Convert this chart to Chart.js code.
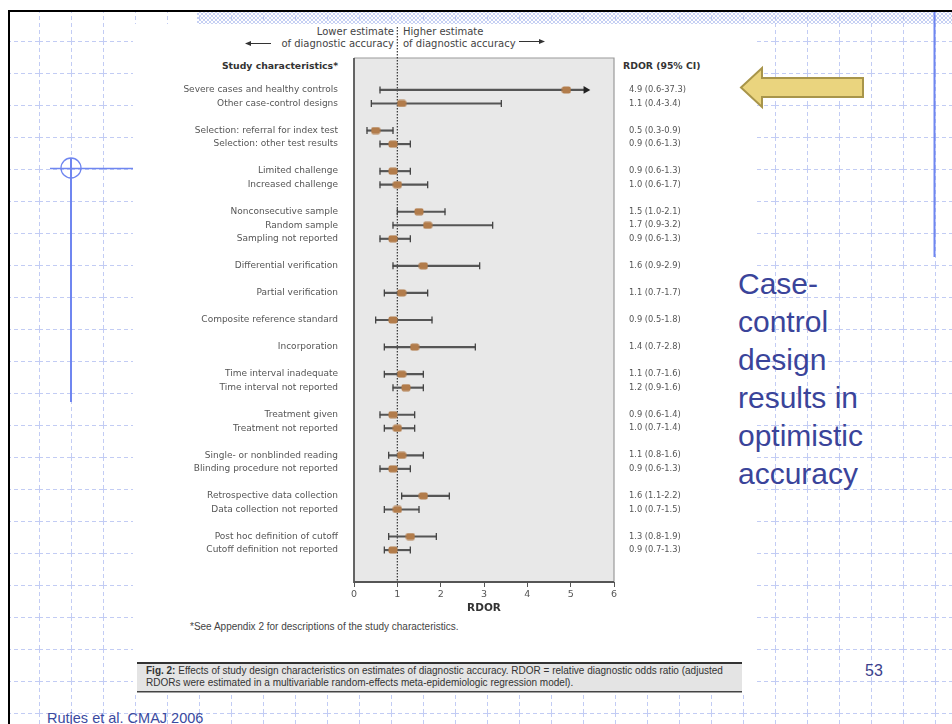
<!DOCTYPE html>
<html>
<head>
<meta charset="utf-8">
<script src="https://cdn.jsdelivr.net/npm/chart.js@4/dist/chart.umd.min.js"></script>
<style>
  html, body { margin: 0; padding: 0; background: #fff; }
  #slide { position: relative; width: 952px; height: 724px; overflow: hidden; background: #fff; }
  #slide svg, #slide canvas { position: absolute; left: 0; top: 0; }
  .t { position: absolute; white-space: nowrap; font-family: "DejaVu Sans", sans-serif; color: #444; }
  .r { text-align: right; }
  .b { font-weight: bold; color: #333; }
  .cap { font-family: "Liberation Sans", Arial, sans-serif; font-size: 10px; color: #333; }
</style>
</head>
<body>
<div id="slide">
  <svg width="952" height="724">
    <defs>
      <pattern id="grid" x="7" y="9" width="32" height="32" patternUnits="userSpaceOnUse">
        <path d="M0 0.5 H32" stroke="#c2ccf4" stroke-width="1" stroke-dasharray="4 3" fill="none"/>
        <path d="M0.5 0 V32" stroke="#c2ccf4" stroke-width="1" stroke-dasharray="4 3" fill="none"/>
      </pattern>
      <pattern id="hatch" width="4" height="4" patternUnits="userSpaceOnUse">
        <path d="M0 0 L4 4 M4 0 L0 4" stroke="#b7c4f0" stroke-width="0.8" fill="none"/>
      </pattern>
    </defs>
    <rect x="8" y="10" width="944" height="714" fill="url(#grid)"/>
    <rect x="197" y="12" width="755" height="12" fill="url(#hatch)"/>
    <rect x="133" y="24" width="622" height="671" fill="#fff"/>
    <rect x="8" y="10" width="944" height="2" fill="#000"/>
    <rect x="8" y="10" width="2" height="714" fill="#000"/>
    <!-- blue decorations -->
    <line x1="934.5" y1="12" x2="934.5" y2="257" stroke="#6f86f0" stroke-width="2"/>
    <circle cx="71" cy="168" r="10" fill="none" stroke="#6f86f0" stroke-width="1.3"/>
    <line x1="50" y1="168.5" x2="133" y2="168.5" stroke="#6f86f0" stroke-width="1.3"/>
    <line x1="71" y1="158" x2="71" y2="402" stroke="#6f86f0" stroke-width="2"/>
    <!-- yellow arrow -->
    <polygon points="741,87.5 762,68 762,78 863,78 863,97 762,97 762,107" fill="#ead47e" stroke="#a8954a" stroke-width="2" stroke-linejoin="miter"/>
    <!-- header arrows -->
    <line x1="249" y1="43.5" x2="271" y2="43.5" stroke="#333" stroke-width="1"/>
    <polygon points="245,43.5 251,41 251,46" fill="#333"/>
    <line x1="519" y1="41.5" x2="541" y2="41.5" stroke="#333" stroke-width="1"/>
    <polygon points="545,41.5 539,39 539,44" fill="#333"/>
    <!-- caption box -->
    <rect x="137" y="663" width="605" height="29" fill="#e4e4e4"/>
    <rect x="137" y="662" width="605" height="2" fill="#333"/>
    <rect x="137" y="691" width="605" height="1.5" fill="#444"/>
  </svg>

  <div class="t r" style="right:558px;top:26px;font-size:10px;">Lower estimate</div>
  <div class="t r" style="right:558px;top:38px;font-size:10px;">of diagnostic accuracy</div>
  <div class="t" style="left:403px;top:26px;font-size:10px;">Higher estimate</div>
  <div class="t" style="left:403px;top:38px;font-size:10px;">of diagnostic accuracy</div>
  <div class="t r b" style="right:614px;top:60px;font-size:9.3px;">Study characteristics*</div>
  <div class="t b" style="left:623px;top:60px;font-size:9.3px;">RDOR (95% CI)</div>
  <div class="t cap" style="left:190px;top:621px;color:#444;">*See Appendix 2 for descriptions of the study characteristics.</div>
  <div class="t cap" style="left:146px;top:665px;"><b>Fig. 2:</b> Effects of study design characteristics on estimates of diagnostic accuracy. RDOR = relative diagnostic odds ratio (adjusted</div>
  <div class="t cap" style="left:146px;top:677px;">RDORs were estimated in a multivariable random-effects meta-epidemiologic regression model).</div>

  <div class="t" style="left:738px;top:265px;font-family:'Liberation Sans',Arial,sans-serif;font-size:30px;line-height:38px;color:#3a449a;">Case-<br>control<br>design<br>results in<br>optimistic<br>accuracy</div>
  <div class="t" style="left:865px;top:662px;font-family:'Liberation Sans',Arial,sans-serif;font-size:16px;color:#3b3f8c;">53</div>
  <div class="t" style="left:47px;top:710px;font-family:'Liberation Sans',Arial,sans-serif;font-size:14.5px;color:#3a4aa0;">Rutjes et al. CMAJ 2006</div>

  <canvas id="forest" width="952" height="724"></canvas>
</div>

<script>
// study characteristics, grouped as in the figure
const groups = [
  ['Severe cases and healthy controls', 'Other case-control designs'],
  ['Selection: referral for index test', 'Selection: other test results'],
  ['Limited challenge', 'Increased challenge'],
  ['Nonconsecutive sample', 'Random sample', 'Sampling not reported'],
  ['Differential verification'],
  ['Partial verification'],
  ['Composite reference standard'],
  ['Incorporation'],
  ['Time interval inadequate', 'Time interval not reported'],
  ['Treatment given', 'Treatment not reported'],
  ['Single- or nonblinded reading', 'Blinding procedure not reported'],
  ['Retrospective data collection', 'Data collection not reported'],
  ['Post hoc definition of cutoff', 'Cutoff definition not reported']
];
const rdor   = [4.9, 1.1, 0.5, 0.9, 0.9, 1.0, 1.5, 1.7, 0.9, 1.6, 1.1, 0.9, 1.4, 1.1, 1.2, 0.9, 1.0, 1.1, 0.9, 1.6, 1.0, 1.3, 0.9];
const ciLow  = [0.6, 0.4, 0.3, 0.6, 0.6, 0.6, 1.0, 0.9, 0.6, 0.9, 0.7, 0.5, 0.7, 0.7, 0.9, 0.6, 0.7, 0.8, 0.6, 1.1, 0.7, 0.8, 0.7];
const ciHigh = [37.3, 3.4, 0.9, 1.3, 1.3, 1.7, 2.1, 3.2, 1.3, 2.9, 1.7, 1.8, 2.8, 1.6, 1.6, 1.4, 1.4, 1.6, 1.3, 2.2, 1.5, 1.9, 1.3];
const xTicks = [0, 1, 2, 3, 4, 5, 6];

const X_MAX = 6;
const ARROW_AT = 5.35;

// one row per characteristic, one blank row between groups
const rows = [];
const categories = [];
groups.forEach(g => {
  g.forEach(name => { rows.push({ name, slot: categories.length }); categories.push(name); });
  categories.push('');
});
categories.pop();
const ciText = {};
rows.forEach((r, i) => {
  ciText[r.slot] = rdor[i].toFixed(1) + ' (' + ciLow[i].toFixed(1) + '-' + ciHigh[i].toFixed(1) + ')';
});

const marker = document.createElement('canvas');
marker.width = 10; marker.height = 8;
const mc = marker.getContext('2d');
mc.fillStyle = '#b27c4b';
mc.beginPath(); mc.roundRect(0.5, 0.5, 9, 7, 2); mc.fill();

const PAD = 2.36;
const yMin = -PAD, yMax = categories.length - 1 + PAD;

const boxPlugin = {
  id: 'box',
  beforeDraw(chart) {
    const { ctx, chartArea: a } = chart;
    ctx.save();
    ctx.fillStyle = '#e8e8e8';
    ctx.fillRect(a.left, a.top, a.right - a.left, a.bottom - a.top);
    ctx.strokeStyle = '#9a9a9a'; ctx.lineWidth = 1.2;
    ctx.beginPath();
    ctx.moveTo(a.left, a.top); ctx.lineTo(a.right, a.top); ctx.lineTo(a.right, a.bottom);
    ctx.stroke();
    ctx.strokeStyle = '#555'; ctx.lineWidth = 1.8;
    ctx.beginPath();
    ctx.moveTo(a.left, a.top); ctx.lineTo(a.left, a.bottom); ctx.lineTo(a.right, a.bottom);
    ctx.stroke();
    ctx.restore();
  },
  beforeDatasetsDraw(chart) {
    const { ctx, chartArea: a, scales } = chart;
    const x = scales.x.getPixelForValue(1);
    ctx.save();
    ctx.strokeStyle = '#333'; ctx.lineWidth = 1.2;
    ctx.setLineDash([1.5, 1.5]);
    ctx.beginPath();
    ctx.moveTo(x, 27); ctx.lineTo(x, a.bottom);
    ctx.stroke();
    ctx.restore();
  }
};

const labelFont = { family: 'DejaVu Sans', size: 9 };

new Chart(document.getElementById('forest'), {
  type: 'scatter',
  data: {
    datasets: [
      {
        type: 'bar',
        indexAxis: 'y',
        data: rows.map((r, i) => ({ x: [ciLow[i], Math.min(ciHigh[i], ARROW_AT)], y: r.slot })),
        backgroundColor: '#555',
        borderWidth: 0,
        barThickness: 1.5,
        order: 4
      },
      {
        data: rows.flatMap((r, i) => ciHigh[i] > X_MAX
          ? [{ x: ciLow[i], y: r.slot }]
          : [{ x: ciLow[i], y: r.slot }, { x: ciHigh[i], y: r.slot }]),
        pointStyle: 'line',
        rotation: 90,
        radius: 3.5,
        borderColor: '#444',
        borderWidth: 1.3,
        order: 3
      },
      {
        data: rows.filter((r, i) => ciHigh[i] > X_MAX).map(r => ({ x: ARROW_AT, y: r.slot })),
        pointStyle: 'triangle',
        rotation: 90,
        radius: 4.5,
        backgroundColor: '#222',
        borderColor: '#222',
        borderWidth: 0,
        order: 2
      },
      {
        data: rows.map((r, i) => ({ x: rdor[i], y: r.slot })),
        pointStyle: marker,
        order: 1
      }
    ]
  },
  options: {
    responsive: false,
    animation: false,
    events: [],
    layout: { padding: { top: 58, bottom: 109, left: 0, right: 0 } },
    plugins: { legend: { display: false }, tooltip: { enabled: false } },
    scales: {
      x: {
        type: 'linear', min: 0, max: X_MAX,
        afterBuildTicks: s => { s.ticks = xTicks.map(v => ({ value: v })); },
        afterFit: s => { s.height = 33; },
        grid: { drawOnChartArea: false, drawTicks: true, tickLength: 5, color: '#555', lineWidth: 1 },
        border: { display: false },
        ticks: { padding: 2, color: '#555', font: { family: 'DejaVu Sans', size: 9.5 } },
        title: { display: true, text: 'RDOR', color: '#333', padding: { top: 0, bottom: 0 },
                 font: { family: 'DejaVu Sans', size: 10.5, weight: 'bold' } }
      },
      y: {
        type: 'linear', min: yMin, max: yMax, reverse: true, position: 'left', offset: false,
        afterBuildTicks: s => { s.ticks = categories.map((c, i) => ({ value: i })); },
        afterFit: s => { s.width = 354; },
        grid: { display: false, drawTicks: false, offset: false },
        border: { display: false },
        ticks: { autoSkip: false, padding: 16, color: '#555', font: labelFont,
                 callback: v => categories[v] || '' }
      },
      y2: {
        type: 'linear', min: yMin, max: yMax, reverse: true, position: 'right', offset: false,
        afterBuildTicks: s => { s.ticks = categories.map((c, i) => ({ value: i })); },
        afterFit: s => { s.width = 338; },
        grid: { display: false, drawTicks: false },
        border: { display: false },
        ticks: { autoSkip: false, padding: 15, color: '#555', font: { family: 'DejaVu Sans', size: 8.3 },
                 callback: v => ciText[v] || '' }
      }
    }
  },
  plugins: [boxPlugin]
});
</script>
</body>
</html>
